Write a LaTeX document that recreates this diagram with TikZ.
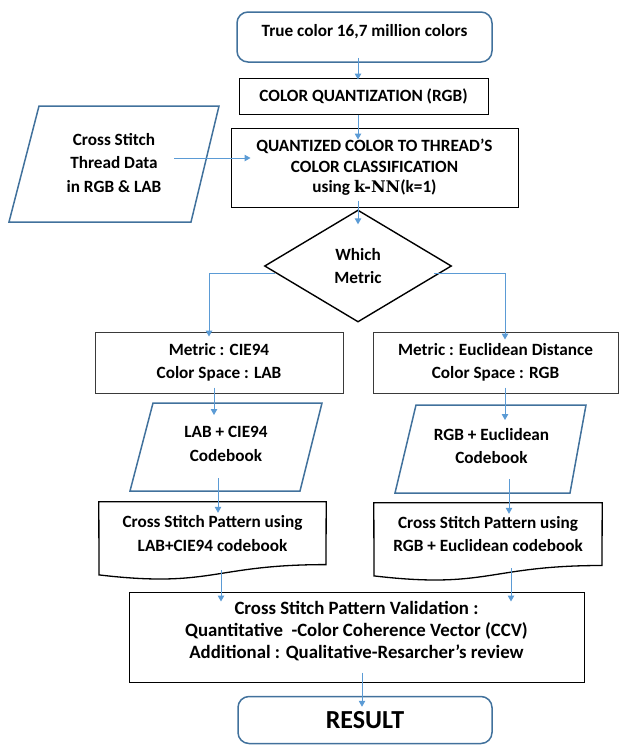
\documentclass[tikz,border=0pt]{standalone}
\usepackage{fontspec}
\setmainfont{Carlito}
\newfontfamily\knnfont{DejaVu Serif}
\usetikzlibrary{shapes.geometric,arrows.meta,calc}
\definecolor{bordblue}{HTML}{41719C}
\definecolor{arrblue}{HTML}{5B9BD5}
\definecolor{boxgray}{HTML}{3A3A3A}
\begin{document}
\begin{tikzpicture}[x=1pt,y=-1pt,
  txt/.style={font=\fontsize{17.2}{23.5}\selectfont\bfseries, align=center, text=black, inner sep=0pt},
  plainbox/.style={draw=black, line width=1pt, inner sep=0pt, txt},
  graybox/.style={draw=boxgray, line width=1pt, inner sep=0pt, txt},
  roundbox/.style={draw=bordblue, line width=1.5pt, rounded corners=11pt, inner sep=0pt, txt},
  bluepath/.style={draw=bordblue, line width=1.5pt},
  docpath/.style={draw=black, line width=1.3pt},
  arr/.style={draw=arrblue, line width=1pt, -{Triangle[length=6pt,width=6.5pt]}}]
\useasboundingbox (0,0) rectangle (619,745);

% top rounded box
\node[roundbox, minimum width=255pt, minimum height=50pt] (top) at (364.5,37) {};
\node[txt] (toptxt) at (364.5,32) {True color 16,7 million colors};

% colour quantization
\node[plainbox, minimum width=249pt, minimum height=36pt] (quant) at (363.5,96) {COLOR QUANTIZATION (RGB)};

% classification box
\node[plainbox, minimum width=287pt, minimum height=79pt,
      font=\fontsize{17.2}{20.5}\selectfont\bfseries] (q) at (374.5,167.5)
  {QUANTIZED COLOR TO THREAD'S\\COLOR CLASSIFICATION\\using {\knnfont\fontsize{16}{20.5}\selectfont k-NN}(k=1)};

% input data parallelogram
\draw[bluepath] (39,106) -- (219,106) -- (191,222) -- (9,222) -- cycle;
\node[txt] (inp) at (114,163) {Cross Stitch\\Thread Data\\in RGB \& LAB};

% decision diamond
\node[draw=black, line width=1.4pt, diamond, aspect=1.67, minimum width=187pt,
      minimum height=112pt, inner sep=0pt, txt] (dia) at (358,266) {Which\\Metric};

% metric boxes
\node[graybox, minimum width=248pt, minimum height=61pt] (ml) at (219,362.5)
  {Metric : CIE94\\Color Space : LAB};
\node[graybox, minimum width=245pt, minimum height=61pt] (mr) at (495.5,362.5)
  {Metric : Euclidean Distance\\Color Space : RGB};

% codebook parallelograms
\draw[bluepath] (153,403) -- (322,403) -- (300,491) -- (130,491) -- cycle;
\node[txt] (p1) at (226,444) {LAB + CIE94\\Codebook};
\draw[bluepath] (416,405) -- (586,405) -- (570,493) -- (395,493) -- cycle;
\node[txt] (p2) at (491.5,446) {RGB + Euclidean\\Codebook};

% documents
\node[txt, minimum width=227pt, minimum height=63pt] (d1) at (212.5,533.5)
  {Cross Stitch Pattern using\\LAB+CIE94 codebook};
\draw[docpath] (d1.north west) -- (d1.north east) -- (326,564.6)
  .. controls (212.5,564.6) and (212.5,588.3) .. (99,574.9) -- cycle;
\node[txt, minimum width=228pt, minimum height=62pt] (d2) at (488,534)
  {Cross Stitch Pattern using\\RGB + Euclidean codebook};
\draw[docpath] (d2.north west) -- (d2.north east) -- (602,565.5)
  .. controls (488,565.5) and (488,589.3) .. (374,575.9) -- cycle;

% validation
\node[plainbox, minimum width=455pt, minimum height=90pt] (val) at (356.5,637) {};
\node[txt, font=\fontsize{18.8}{22}\selectfont\bfseries] (valtxt) at (356.5,631)
  {Cross Stitch Pattern Validation :\\Quantitative\ \ -Color Coherence Vector (CCV)\\Additional : Qualitative-Resarcher’s review};

% result
\node[roundbox, minimum width=254pt, minimum height=47pt,
      font=\fontsize{26}{30}\selectfont\bfseries] (res) at (365,720) {RESULT};

% connectors
\draw[arr] ($(top.south)+(-6.5,-5)$) -- ($(quant.north)+(-5.5,2)$);
\draw[arr] ($(quant.south)+(-5.5,0)$) -- ($(q.north)+(-16.5,12)$);
\draw[arr] ($(inp.center)+(60,-5)$) -- ($(q.west)+(20,-9.5)$);
\draw[arr] ($(q.south)+(-16.5,-7)$) -- ($(dia.north)+(0,15)$);
\draw[arr] ($(dia.west)+(11,7)$) -| ($(ml.north)+(-10,5)$);
\draw[arr] ($(dia.east)+(-18,7)$) -| ($(mr.north)+(9.5,8)$);
\draw[arr] ($(ml.south)+(-5,-6)$) -- ($(p1.center)+(-12,-29)$);
\draw[arr] ($(mr.south)+(9.5,-6)$) -- ($(p2.center)+(13.5,-26)$);
\draw[arr] ($(p1.center)+(-8,34)$) -- ($(d1.north)+(5.5,11)$);
\draw[arr] ($(p2.center)+(17.5,33)$) -- ($(d2.north)+(21,11)$);
\draw[arr] ($(d1.south)+(8.5,5)$) -- ($(val.north)+(-135.5,10)$);
\draw[arr] ($(d2.south)+(23,3)$) -- ($(val.north)+(154.5,10)$);
\draw[arr] ($(val.south)+(5.5,-10)$) -- ($(res.north)+(-3,11)$);
\end{tikzpicture}
\end{document}
